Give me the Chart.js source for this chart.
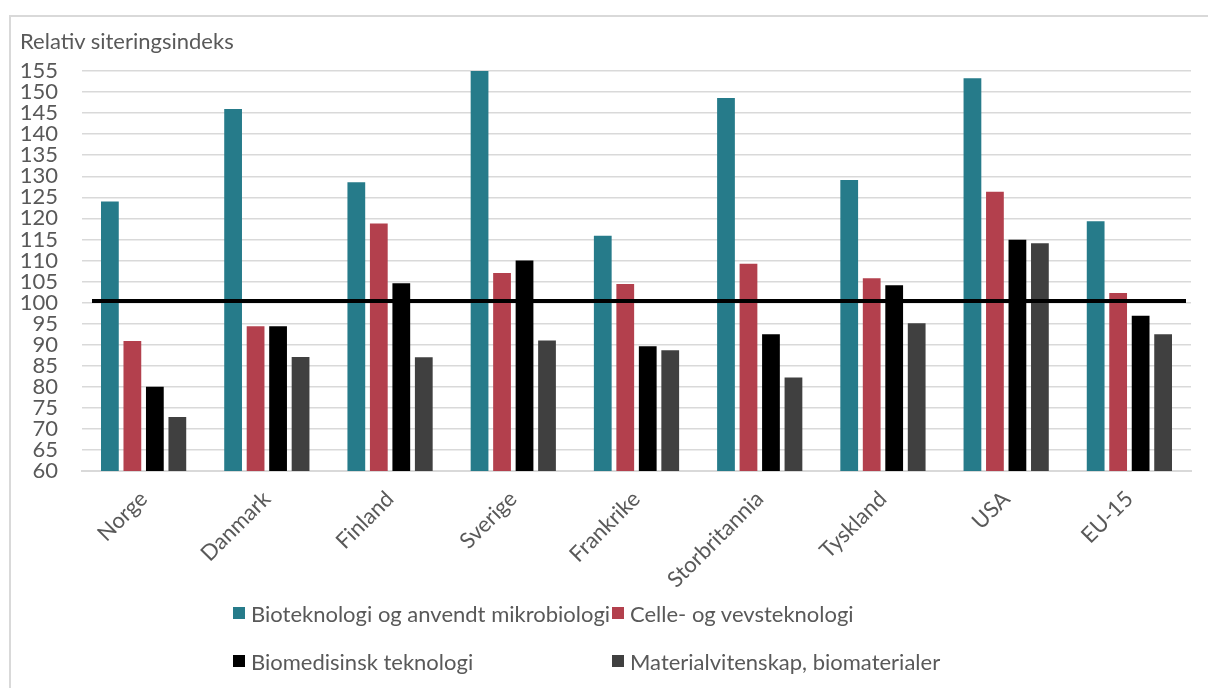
<!DOCTYPE html>
<html>
<head>
<meta charset="utf-8">
<script src="https://cdn.jsdelivr.net/npm/chart.js@4"></script>
<style>
  html, body { margin: 0; padding: 0; background: #fff; }
  body { width: 1208px; height: 688px; position: relative; overflow: hidden; font-family: Lato, sans-serif; }
  #frame { position: absolute; left: 9px; top: 15px; width: 1300px; height: 800px; border-left: 2px solid #d9d9d9; border-top: 2px solid #d9d9d9; }
  #wrap { position: absolute; left: 0; top: 0; width: 1208px; height: 688px; }
  #title { position: absolute; left: 20px; top: 27px; font-size: 22px; color: #595959; white-space: nowrap; }
  #legend { position: absolute; left: 233px; top: 600px; display: grid; grid-template-columns: 379px 379px; row-gap: 22px; }
  .item { display: flex; align-items: center; font-size: 22px; color: #595959; white-space: nowrap; height: 26px; }
  .box { width: 12px; height: 12px; margin-right: 6px; flex: none; }
</style>
</head>
<body>
<div id="frame"></div>
<div id="wrap"><canvas id="c" width="1208" height="688"></canvas></div>
<div id="title">Relativ siteringsindeks</div>
<div id="legend"></div>
<script>
const categories = ['Norge', 'Danmark', 'Finland', 'Sverige', 'Frankrike', 'Storbritannia', 'Tyskland', 'USA', 'EU-15'];
const seriesNames = ['Bioteknologi og anvendt mikrobiologi', 'Celle- og vevsteknologi', 'Biomedisinsk teknologi', 'Materialvitenskap, biomaterialer'];
const bioteknologi = [124.0, 146.0, 128.6, 155.0, 115.9, 148.6, 129.1, 153.3, 119.3];
const celleVev = [90.9, 94.4, 118.8, 107.0, 104.4, 109.2, 105.8, 126.3, 102.3];
const biomedisinsk = [80.0, 94.4, 104.6, 110.0, 89.6, 92.5, 104.1, 114.9, 96.9];
const materialvitenskap = [72.8, 87.1, 87.0, 91.0, 88.7, 82.2, 95.1, 114.1, 92.5];
const referenceValue = 100.4;
const yMin = 60, yMax = 155, yStep = 5;
const colors = ['#267b8a', '#b3404d', '#000000', '#404040'];

const FONT = 'Lato';
const TEXT = '#595959';

const refLine = {
  id: 'refLine',
  afterDatasetsDraw(chart) {
    const y = chart.scales.y.getPixelForValue(referenceValue);
    const a = chart.chartArea;
    const ctx = chart.ctx;
    ctx.save();
    ctx.strokeStyle = '#000';
    ctx.lineWidth = 4;
    ctx.beginPath();
    ctx.moveTo(a.left + 10, y);
    ctx.lineTo(a.right - 5, y);
    ctx.stroke();
    ctx.restore();
  }
};

const allSeries = [bioteknologi, celleVev, biomedisinsk, materialvitenskap];
const chart = new Chart(document.getElementById('c'), {
  type: 'bar',
  data: {
    labels: categories,
    datasets: allSeries.map((d, i) => ({
      label: seriesNames[i],
      data: d,
      backgroundColor: colors[i],
      borderWidth: 0,
      categoryPercentage: 0.73,
      barPercentage: 0.79
    }))
  },
  options: {
    responsive: false,
    animation: false,
    layout: { padding: { left: 20, right: 17, top: 71, bottom: 97 } },
    plugins: { legend: { display: false }, title: { display: false }, tooltip: { enabled: false } },
    scales: {
      x: {
        grid: { display: false, drawTicks: false },
        border: { display: true, color: '#d9d9d9', width: 2 },
        ticks: { color: TEXT, font: { family: FONT, size: 22 }, minRotation: 45, maxRotation: 45, autoSkip: false, padding: 15 },
        afterFit(s) { s.height = 120; }
      },
      y: {
        min: yMin, max: yMax,
        grid: { color: '#d9d9d9', lineWidth: 1.5, drawTicks: false },
        border: { display: false },
        ticks: { stepSize: yStep, color: TEXT, font: { family: FONT, size: 22 }, autoSkip: false, padding: 24 },
        afterFit(s) { s.width = 62; }
      }
    }
  },
  plugins: [refLine]
});

const legend = document.getElementById('legend');
chart.data.datasets.forEach(ds => {
  const it = document.createElement('div');
  it.className = 'item';
  const b = document.createElement('span');
  b.className = 'box';
  b.style.background = ds.backgroundColor;
  const t = document.createElement('span');
  t.textContent = ds.label;
  it.appendChild(b); it.appendChild(t);
  legend.appendChild(it);
});
</script>
</body>
</html>
